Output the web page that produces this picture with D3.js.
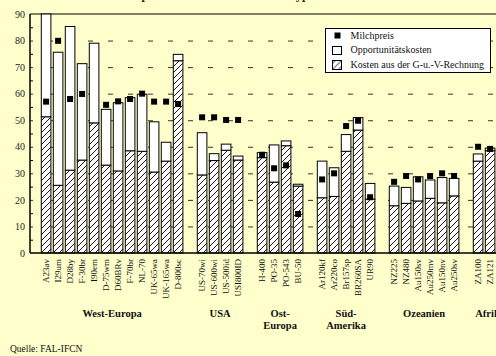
<!DOCTYPE html>
<html>
<head>
<meta charset="utf-8">
<script src="https://cdnjs.cloudflare.com/ajax/libs/d3/7.8.5/d3.min.js"></script>
<style>
	body { margin: 0; background: #ffffcc; }
	svg { display: block; font-family: "Liberation Serif", "Times New Roman", serif; }
</style>
</head>
<body>
<script>
// Betriebe (Kategorien) und ihre Region
var betriebe = ["A23av", "I29um", "D28by", "F-30br", "I90em", "D-75wm", "D60BRv", "F-70br", "NL-70", "UK-65wa", "UK-165wa", "D-800sc",
                "US-70wi", "US-600wi", "US-500id", "USI800ID",
                "H-400", "PO-35", "PO-543", "BU-50",
                "Ar120kf", "Ar220co", "Br157sp", "BR260SA", "UR90",
                "NZ225", "NZ480", "Au150sv", "Au250mv", "Au150nv", "Au250sv",
                "ZA100", "ZA121"];

var regionen = ["West-Europa", "USA", "Ost-Europa", "Süd-Amerika", "Ozeanien", "Afrika"];
var regionenZeilen = [["West-Europa"], ["USA"], ["Ost-", "Europa"], ["Süd-", "Amerika"], ["Ozeanien"], ["Afrika"]];
var betriebeJeRegion = [12, 4, 4, 5, 6, 2];
// Breite der Region in Plätzen (Afrika läuft rechts aus dem Bild)
var plaetzeJeRegion = [12, 4, 4, 5, 6, 3];

// Werte (US-$ / 100 kg Milch)
var kostenGuV = [51.3, 25.5, 31.2, 35.0, 49.0, 33.1, 30.9, 38.5, 38.3, 30.5, 34.6, 72.4,
                 29.4, 34.8, 38.7, 35.0,
                 35.9, 26.7, 40.4, 25.2,
                 20.8, 21.3, 38.3, 46.3, 20.3,
                 17.8, 18.7, 19.6, 20.6, 18.9, 21.5,
                 34.6, 38.5];

var opportunitaetsKosten = [38.7, 50.1, 54.1, 36.3, 30.0, 21.0, 25.7, 20.0, 21.5, 18.9, 7.1, 2.4,
                            15.9, 2.6, 2.3, 1.5,
                            1.9, 14.0, 1.8, 0.7,
                            13.8, 10.8, 6.3, 4.7, 5.9,
                            7.4, 6.0, 9.1, 6.9, 9.5, 6.6,
                            2.7, 1.0];

var milchpreis = [57.0, 79.9, 58.0, 59.9, null, 55.8, 57.1, 58.0, 60.0, 57.0, 57.0, 56.1,
                  51.1, 51.1, 50.1, 50.1,
                  37.0, 31.9, 33.0, 14.7,
                  27.7, 30.0, 47.8, 49.8, 21.0,
                  26.8, 29.0, 27.7, 29.0, 30.0, 29.0,
                  40.0, 39.2];

var ticksY = [0, 10, 20, 30, 40, 50, 60, 70, 80, 90];
var legendeTexte = ["Milchpreis", "Opportunitätskosten", "Kosten aus der G-u.-V-Rechnung"];

var svgW = 496;
var svgH = 356;
var achseLinks = 30;
var achseOben = 14;
var achseUnten = 253;

/*
>>>>>>>>>>>>>>>>>>>>>>>>>>>>>>>>>>>>>>>>>>>>>>>>>>>>>>>>>>>>>> Slots (eine Lücke zwischen den Regionen)
*/
var slots = [];
var datos = [];
var regionSpanne = [];
var k = 0;
regionen.forEach(function (r, ri) {
	var start = slots.length;
	for (var j = 0; j < plaetzeJeRegion[ri]; j++) {
		if (j < betriebeJeRegion[ri]) {
			slots.push(betriebe[k]);
			datos.push({
				name: betriebe[k],
				region: r,
				guv: kostenGuV[k],
				opp: opportunitaetsKosten[k],
				milch: milchpreis[k]
			});
			k++;
		} else {
			slots.push("rest" + ri + "_" + j);
		}
	}
	regionSpanne.push([slots[start], slots[slots.length - 1]]);
	slots.push("leer" + ri);
});

var svg = d3.select("body")
			.append("svg")
			.attr("width", svgW)
			.attr("height", svgH)
			;

var defs = svg.append("defs");
var muster = defs.append("pattern")
				.attr("id", "schraffur")
				.attr("patternUnits", "userSpaceOnUse")
				.attr("width", 6)
				.attr("height", 6)
				;
muster.append("rect").attr("width", 6).attr("height", 6).attr("fill", "white");
muster.append("path")
	  .attr("d", "M0,6 L6,0 M-1,1 L1,-1 M5,7 L7,5")
	  .attr("stroke", "black")
	  .attr("stroke-width", 0.9)
	  ;

var xScale = d3.scaleBand()
			   .domain(slots)
			   .range([40.1, 40.1 + 12 * slots.length])
			   .paddingInner(0.2)
			   .paddingOuter(0.1)
			   ;

var yScale = d3.scaleLinear()
			   .domain([0, 90])
			   .range([achseUnten, achseOben])
			   ;

/*
>>>>>>>>>>>>>>>>>>>>>>>>>>>>>>>>>>>>>>>>>>>>>>>>>>>>>>>>>>>>>> Titel (oben abgeschnitten)
*/
svg.append("text")
   .attr("x", 262)
   .attr("y", -1)
   .attr("text-anchor", "middle")
   .attr("font-size", "12px")
   .attr("font-weight", "bold")
   .attr("fill", "#222")
   .text("Milchpreis und Produktionskosten typischer Betriebe 2000")
   ;

/*
>>>>>>>>>>>>>>>>>>>>>>>>>>>>>>>>>>>>>>>>>>>>>>>>>>>>>>>>>>>>>> Gitter und Achsen
*/
svg.append("g")
   .attr("transform", "translate(" + achseLinks + ",0)")
   .call(d3.axisRight(yScale).tickValues(ticksY.slice(1, 9)).tickSize(svgW - achseLinks).tickFormat(""))
   .call(function (g) { g.select(".domain").remove(); })
   .selectAll("line")
   .attr("stroke", "#333")
   .attr("stroke-dasharray", "5,15")
   .attr("stroke-dashoffset", 2)
   ;

// kleine Striche bei 5er Werten
svg.append("g")
   .attr("transform", "translate(" + achseLinks + ",0)")
   .call(d3.axisRight(yScale).tickValues([5, 15, 25, 35, 45, 55, 65, 75, 85]).tickSize(3).tickFormat(""))
   .call(function (g) { g.select(".domain").remove(); })
   .selectAll("line")
   .attr("stroke", "black")
   ;

svg.append("g")
   .attr("transform", "translate(" + achseLinks + ",0)")
   .call(d3.axisLeft(yScale).tickValues(ticksY).tickSize(0).tickPadding(5))
   .call(function (g) { g.select(".domain").remove(); })
   .selectAll("text")
   .attr("font-family", "Liberation Serif, serif")
   .attr("font-size", "10px")
   .attr("fill", "#222")
   ;

svg.append("line")
   .attr("x1", achseLinks).attr("x2", svgW)
   .attr("y1", achseOben).attr("y2", achseOben)
   .attr("stroke", "black")
   ;

/*
>>>>>>>>>>>>>>>>>>>>>>>>>>>>>>>>>>>>>>>>>>>>>>>>>>>>>>>>>>>>>> Balken
*/
var balken = svg.append("g");

balken.selectAll("rect.guv")
	  .data(datos)
	  .enter()
	  .append("rect")
	  .attr("class", "guv")
	  .attr("x", function (d) { return xScale(d.name); })
	  .attr("y", function (d) { return yScale(d.guv); })
	  .attr("width", xScale.bandwidth())
	  .attr("height", function (d) { return yScale(0) - yScale(d.guv); })
	  .attr("fill", "url(#schraffur)")
	  .attr("stroke", "black")
	  ;

balken.selectAll("rect.opp")
	  .data(datos)
	  .enter()
	  .append("rect")
	  .attr("class", "opp")
	  .attr("x", function (d) { return xScale(d.name); })
	  .attr("y", function (d) { return yScale(d.guv + d.opp); })
	  .attr("width", xScale.bandwidth())
	  .attr("height", function (d) { return yScale(d.guv) - yScale(d.guv + d.opp); })
	  .attr("fill", "white")
	  .attr("stroke", "black")
	  ;

balken.selectAll("rect.milch")
	  .data(datos.filter(function (d) { return d.milch != null; }))
	  .enter()
	  .append("rect")
	  .attr("class", "milch")
	  .attr("x", function (d) { return xScale(d.name) + xScale.bandwidth() / 2 - 3; })
	  .attr("y", function (d) { return yScale(d.milch) - 3; })
	  .attr("width", 6)
	  .attr("height", 6)
	  .attr("fill", "black")
	  ;

// Nulllinie
svg.append("line")
   .attr("x1", achseLinks).attr("x2", svgW)
   .attr("y1", achseUnten).attr("y2", achseUnten)
   .attr("stroke", "black")
   .attr("stroke-width", 1.5)
   ;
svg.append("line")
   .attr("x1", achseLinks).attr("x2", achseLinks)
   .attr("y1", achseOben).attr("y2", achseUnten)
   .attr("stroke", "black")
   .attr("stroke-width", 1.5)
   ;

/*
>>>>>>>>>>>>>>>>>>>>>>>>>>>>>>>>>>>>>>>>>>>>>>>>>>>>>>>>>>>>>> Beschriftungen
*/
svg.selectAll("text.betrieb")
   .data(datos)
   .enter()
   .append("text")
   .attr("class", "betrieb")
   .attr("transform", function (d) {
		return "translate(" + (xScale(d.name) + xScale.bandwidth() / 2) + ",259) rotate(-90)";
   })
   .attr("dy", "0.35em")
   .attr("text-anchor", "end")
   .attr("font-size", "9px")
   .attr("fill", "#111")
   .text(function (d) { return d.name; })
   ;

var regionText = svg.selectAll("text.region")
					.data(regionen)
					.enter()
					.append("text")
					.attr("class", "region")
					.attr("text-anchor", "middle")
					.attr("font-size", "10.5px")
					.attr("font-weight", "bold")
					.attr("fill", "#111")
					.attr("x", function (r, i) {
						var x0 = xScale(regionSpanne[i][0]);
						var x1 = xScale(regionSpanne[i][1]) + xScale.bandwidth();
						return (x0 + x1) / 2;
					})
					.attr("y", 317)
					;
regionText.selectAll("tspan")
		  .data(function (r) { return regionenZeilen[regionen.indexOf(r)]; })
		  .enter()
		  .append("tspan")
		  .attr("x", function () { return d3.select(this.parentNode).attr("x"); })
		  .attr("dy", function (d, i) { return i === 0 ? 0 : 12; })
		  .text(function (d) { return d; })
		  ;

svg.append("text")
   .attr("x", 10)
   .attr("y", 352)
   .attr("font-size", "9.5px")
   .attr("fill", "#111")
   .text("Quelle: FAL-IFCN")
   ;

/*
>>>>>>>>>>>>>>>>>>>>>>>>>>>>>>>>>>>>>>>>>>>>>>>>>>>>>>>>>>>>>> Legende
*/
var legende = svg.append("g").attr("transform", "translate(325.5,28.5)");
legende.append("rect")
	   .attr("width", 165)
	   .attr("height", 44)
	   .attr("fill", "white")
	   .attr("stroke", "black")
	   ;
legende.append("rect")
	   .attr("x", 9).attr("y", 4).attr("width", 6).attr("height", 6)
	   .attr("fill", "black")
	   ;
legende.append("rect")
	   .attr("x", 7).attr("y", 18).attr("width", 9).attr("height", 8)
	   .attr("fill", "white").attr("stroke", "black")
	   ;
legende.append("rect")
	   .attr("x", 7).attr("y", 32).attr("width", 9).attr("height", 9)
	   .attr("fill", "url(#schraffur)").attr("stroke", "black")
	   ;
legende.selectAll("text")
	   .data(legendeTexte)
	   .enter()
	   .append("text")
	   .attr("x", 25)
	   .attr("y", function (d, i) { return 10 + i * 14.5; })
	   .attr("font-size", "10px")
	   .attr("fill", "#111")
	   .text(function (d) { return d; })
	   ;
</script>
</body>
</html>
